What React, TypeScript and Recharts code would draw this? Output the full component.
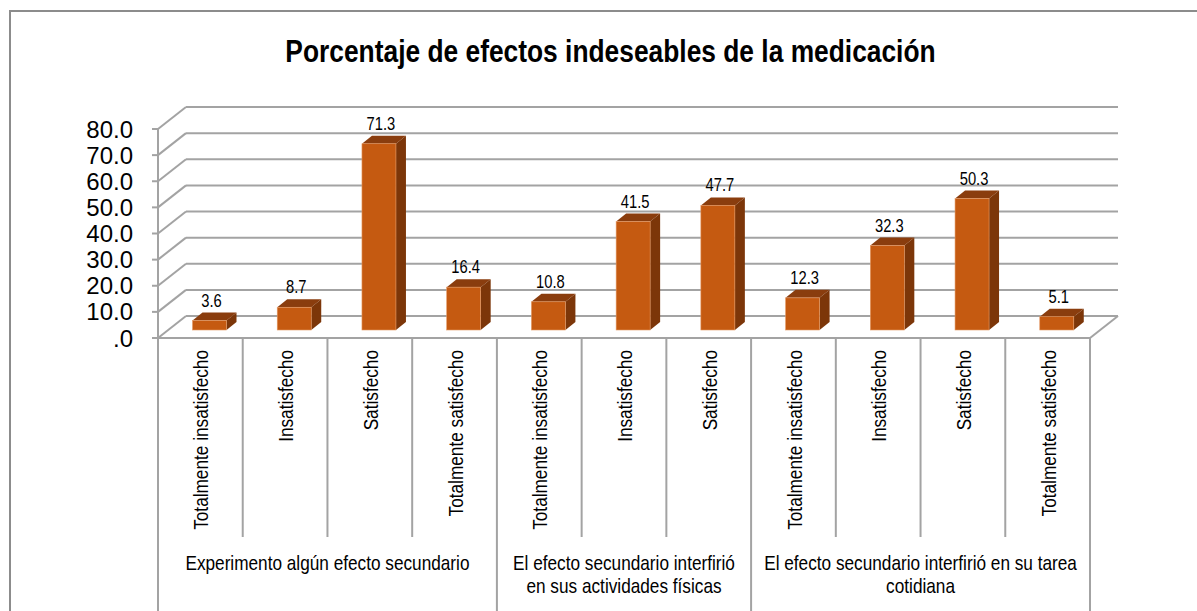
import { Bar, BarChart, CartesianGrid, LabelList, XAxis, YAxis } from "recharts";

const categories = [
  "Totalmente insatisfecho",
  "Insatisfecho",
  "Satisfecho",
  "Totalmente satisfecho",
  "Totalmente insatisfecho",
  "Insatisfecho",
  "Satisfecho",
  "Totalmente insatisfecho",
  "Insatisfecho",
  "Satisfecho",
  "Totalmente satisfecho",
];

const values = [3.6, 8.7, 71.3, 16.4, 10.8, 41.5, 47.7, 12.3, 32.3, 50.3, 5.1];

const groupLabels = [
  ["Experimento algún efecto secundario"],
  ["El efecto secundario interfirió", "en sus actividades físicas"],
  ["El efecto secundario interfirió en su tarea", "cotidiana"],
];
const groupSizes = [4, 3, 4];

const yTicks = [0, 10, 20, 30, 40, 50, 60, 70, 80];

const data = categories.map((cat, i) => ({ id: String(i), cat, value: values[i] }));

// start index of each group
const groupStarts = groupSizes.map((_, g) =>
  groupSizes.slice(0, g).reduce((a, b) => a + b, 0)
);

// no narrow font installed, so squeeze Liberation Sans horizontally
const FONT = "'Liberation Sans', Arial, sans-serif";
const NARROW = 0.82;
const GRID = "#a3a3a3";
const DX = 28; // depth of the back wall
const DY = 22;
const SX = 9.5; // bars sit a bit behind the front plane
const SY = 8;
const BX = 10; // bar depth
const BY = 8;

const Bar3D = (props: any) => {
  const { x, y, width, height } = props;
  if (!width || height == null) return null;
  const fx = x + SX;
  const fy = y - SY;
  const h = height;
  const w = width;
  return (
    <g>
      <polygon
        points={`${fx},${fy} ${fx + BX},${fy - BY} ${fx + w + BX},${fy - BY} ${fx + w},${fy}`}
        fill="#8a3d0e"
      />
      <polygon
        points={`${fx + w},${fy} ${fx + w + BX},${fy - BY} ${fx + w + BX},${fy + h - BY} ${fx + w},${fy + h}`}
        fill="#7c3609"
      />
      <rect x={fx} y={fy} width={w} height={h} fill="#c55a11" stroke="#e59a66" strokeWidth={0.6} />
    </g>
  );
};

const renderValue = (props: any) => {
  const { x, y, width, value } = props;
  const cx = x + SX + width / 2 + 2;
  const cy = y - SY - 14;
  return (
    <text
      transform={`translate(${cx}, ${cy}) scale(${NARROW}, 1)`}
      textAnchor="middle"
      fontFamily={FONT}
      fontSize={18}
      fill="#000"
    >
      {Number(value).toFixed(1)}
    </text>
  );
};

const gridLine = (props: any) => {
  const { x1, y1, x2, y2, y, height } = props;
  const isFloor = Math.abs(y1 - (y + height)) < 1;
  return (
    <g key={props.key}>
      <line x1={x1} y1={y1} x2={x1 + DX} y2={y1 - DY} stroke={GRID} strokeWidth={2} />
      <line x1={x1 + DX} y1={y1 - DY} x2={x2 + DX} y2={y2 - DY} stroke={GRID} strokeWidth={2} />
      {isFloor && (
        <line x1={x2} y1={y2} x2={x2 + DX} y2={y2 - DY} stroke={GRID} strokeWidth={2} />
      )}
    </g>
  );
};

const CatTick = (props: any) => {
  const { x, y, index, width } = props;
  const band = width / categories.length;
  const left = x - band / 2;
  const isGroupStart = groupStarts.includes(index);
  const g = groupStarts.indexOf(index);
  const isLast = index === categories.length - 1;
  return (
    <g>
      <line x1={left} y1={y} x2={left} y2={isGroupStart ? 611 : 537} stroke={GRID} strokeWidth={2} />
      {isLast && <line x1={x + band / 2} y1={y} x2={x + band / 2} y2={611} stroke={GRID} strokeWidth={2} />}
      <text
        transform={`translate(${x + 1}, ${y + 12}) rotate(-90) scale(${NARROW}, 1)`}
        textAnchor="end"
        dominantBaseline="central"
        fontFamily={FONT}
        fontSize={21}
        fill="#000"
      >
        {categories[index]}
      </text>
      {isGroupStart &&
        groupLabels[g].map((line, k) => (
          <text
            key={k}
            transform={`translate(${left + (groupSizes[g] * band) / 2}, ${y + 225 + k * 23}) scale(${NARROW}, 1)`}
            textAnchor="middle"
            dominantBaseline="central"
            fontFamily={FONT}
            fontSize={21}
            fill="#000"
          >
            {line}
          </text>
        ))}
    </g>
  );
};

export default function App() {
  return (
    <div style={{ position: "absolute", left: 0, top: 0, width: 1197, height: 611, background: "#fff" }}>
      <div
        style={{
          position: "absolute",
          left: 9,
          top: 10,
          right: 0,
          bottom: 0,
          borderLeft: "2px solid #8c8c8c",
          borderTop: "2px solid #8c8c8c",
        }}
      />
      <div
        style={{
          position: "absolute",
          left: 0,
          width: 1220,
          top: 34,
          textAlign: "center",
        }}
      >
        <span
          style={{
            display: "inline-block",
            transform: "scaleX(0.85)",
            fontFamily: FONT,
            fontWeight: "bold",
            fontSize: 31,
            color: "#000",
            whiteSpace: "nowrap",
          }}
        >
          Porcentaje de efectos indeseables de la medicación
        </span>
      </div>
      <BarChart
        width={1197}
        height={611}
        data={data}
        margin={{ top: 129, right: 107, bottom: 0, left: 98 }}
        style={{ position: "absolute", left: 0, top: 0 }}
      >
        <CartesianGrid horizontal={gridLine} vertical={false} />
        <XAxis
          dataKey="id"
          interval={0}
          height={273}
          tickLine={false}
          tickSize={0}
          tickMargin={0}
          axisLine={{ stroke: GRID, strokeWidth: 2 }}
          tick={<CatTick />}
        />
        <YAxis
          domain={[0, 80]}
          ticks={yTicks}
          interval={0}
          width={60}
          tickSize={6}
          tickMargin={19}
          axisLine={{ stroke: GRID, strokeWidth: 2 }}
          tickLine={{ stroke: GRID, strokeWidth: 2 }}
          tick={{ fill: "#000", fontSize: 24, fontFamily: FONT }}
          tickFormatter={(v: number) => (v === 0 ? ".0" : v.toFixed(1))}
        />
        <Bar dataKey="value" barSize={34} shape={<Bar3D />} isAnimationActive={false}>
          <LabelList dataKey="value" content={renderValue} />
        </Bar>
      </BarChart>
    </div>
  );
}
